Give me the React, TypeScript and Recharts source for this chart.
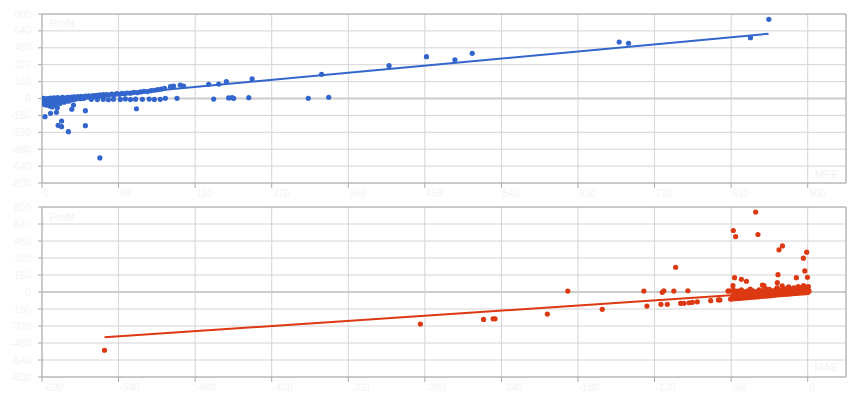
import React from 'react';
import { ScatterChart, Scatter, XAxis, YAxis, CartesianGrid, ReferenceLine } from 'recharts';

// ---------- data ----------
const yTicks = [-800, -640, -480, -320, -160, 0, 160, 320, 480, 640, 800];
const mfeTicks = [0, 90, 180, 270, 360, 450, 540, 630, 720, 810, 900];
const maeTicks = [-600, -540, -480, -420, -360, -300, -240, -180, -120, -60, 0];

// [MFE, Profit]
const profitVsMfe: [number, number][] = [
  [3.5, -172], [10, -140], [17, -131], [19, -254], [23, -213], [23, -267], [31, -314], [35, -102], [37, -62],
  [51, -115], [51, -257], [68, -563], [111, -97],
  [139, -8], [145, 2], [158.7, 2], [201.8, -5], [219.4, 5], [223.4, 8], [225.3, 2], [243, 8], [313, 2], [337, 11],
  [65, -10], [72, -8], [78, -12], [84, -6], [92, -9], [98, -4], [104, -10], [110, -6], [118, -8], [126, -5], [132, -9],
  [151, 112], [154.7, 118], [162.5, 128], [166.4, 118], [195.9, 134], [207.7, 137], [216.7, 159], [247, 185],
  [328.6, 229], [407.9, 311], [451.9, 396], [485.3, 367], [505.7, 428], [678.4, 535], [689.4, 523], [832.7, 576], [854.3, 750],
  [0.5, -5], [0.8, -30], [1, -12], [1.2, -48], [1.5, 2], [1.8, -20], [2, -38], [2.3, -8], [2.6, -55], [3, -15],
  [3.3, -25], [3.6, -3], [4, -42], [4.4, -18], [4.8, -62], [5, -6], [5.5, -30], [6, -12], [6.5, -50], [7, 0],
  [7.5, -22], [8, -36], [8.5, -8], [9, -70], [9.5, -15], [10, 4], [10.5, -28], [11, -45], [11.5, -10], [12, -80],
  [12.5, -2], [13, -20], [13.5, -35], [14, 6], [14.5, -12], [15, -58], [15.5, -25], [16, 2], [16.5, -40], [17, -8],
  [17.5, -18], [18, -88], [18.5, 8], [19, -30], [19.5, -5], [20, -14], [21, -48], [22, -2], [23, -22], [24, 10],
  [25, -10], [26, -35], [27, 4], [28, -18], [29, -6], [30, 12], [31, -26], [32, -2], [33, 8], [34, -14],
  [35, 14], [36, 0], [37, -10], [38, 16], [39, 6], [40, -4], [42, 18], [43, 8], [45, -2], [46, 20],
  [48, 10], [49, 0], [51, 22], [53, 12], [55, 26], [57, 14], [58, -8], [60, 28], [62, 18], [64, 30],
  [66, 20], [68, 34], [70, 24], [72, 36], [74, 28], [76, 38], [79, 32], [82, 42], [85, 36], [88, 46],
  [91, 40], [94, 48], [97, 44], [100, 52], [104, 50], [108, 58], [112, 56], [116, 62], [120, 68], [124, 66],
  [128, 74], [132, 78], [136, 84], [140, 88], [144, 96],
];
const trendProfitMfe: [number, number][] = [[0, -26], [854, 613]];

// [MAE, Profit]
const profitVsMae: [number, number][] = [
  [-551, -548], [-303.5, -302], [-254, -258], [-246.5, -252], [-245, -252], [-204, -208], [-188, 9], [-161, -163],
  [-128.4, 9], [-126, -132], [-115, -116], [-114, -3], [-112.7, 12], [-110, -116], [-103.5, 233], [-104.9, 9],
  [-99.6, -107], [-97, -107], [-93, -101], [-90.4, -97], [-86.5, -92], [-93.9, 12], [-76, -82], [-70, -75], [-68.8, -75],
  [-58.3, 579], [-56.5, 522], [-40.8, 753], [-39, 541], [-57.3, 135], [-58.6, 60], [-52, 120], [-48, 101],
  [-22.5, 397], [-19.8, 434], [-23.3, 163], [-23.8, 88], [-0.8, 375], [-3.4, 318], [-2.3, 198], [-0.2, 139],
  [-8.9, 135], [-62.5, 9], [-60.4, -66], [-35.5, 66], [-34.3, 60],
  [-60, -66], [-58, -64], [-56, -62], [-54, -60], [-52, -58], [-50, -56], [-48, -55], [-46, -52], [-44, -50], [-42, -48],
  [-40, -46], [-38, -44], [-36, -42], [-34, -40], [-32, -38], [-30, -36], [-28, -34], [-26, -30], [-24, -28], [-22, -26],
  [-20, -24], [-18, -22], [-16, -20], [-14, -18], [-12, -16], [-10, -14], [-8, -12], [-6, -10], [-4, -8], [-2, -6], [0, -4],
  [-62, 9], [-60, 10], [-57, 4], [-55, 8], [-51, 6], [-49, 2], [-47, 10], [-45, 5], [-43, 12], [-41, 0],
  [-39, 8], [-37, 3], [-35, 14], [-33, 6], [-31, 18], [-29, 2], [-27, 10], [-25, 22], [-23, 6], [-21, 14],
  [-19, 28], [-17, 8], [-15, 18], [-13, 30], [-11, 12], [-9, 24], [-7, 36], [-5, 16], [-3, 40], [-1, 20],
  [0, 30], [1, 8], [0.5, 50], [-0.5, -2], [-1.5, 12], [-2.5, 28], [-3.5, -4], [-4.5, 6], [-6, 44], [-8, 4],
  [-10, 34], [-12, 0], [-14, 22], [-16, -6], [-18, 12], [-20, -10], [-22, 18], [-24, -12], [-26, 4], [-28, -14],
  [-30, 26], [-32, -18], [-34, -4], [-36, -22], [-38, 20], [-40, -26], [-42, -8], [-44, -30], [-46, -12], [-48, -34],
  [-50, -20], [-52, -38], [-54, -24], [-56, -42], [-58, -28], [-59, -46],
  [-0.2, 15], [-0.8, 35], [-1.2, 2], [-1.8, 45], [-2.2, 18], [-2.8, -6], [-3.2, 60], [-4, 25], [-5, -2], [-5.5, 30],
  [-6.5, 12], [-7.5, 52], [-9, 8], [-11, 40], [-13, 6], [-15, 48], [-17, 30], [-20, 58], [-24, 40], [-27, -20],
  [-33, 30], [-45, 28], [-52, 20], [-58, 15],
];
const trendProfitMae: [number, number][] = [[-551, -425], [1, 18]];

const toPts = (arr: [number, number][]) => arr.map(([x, y]) => ({ x, y }));

const BLUE = '#3366cc';
const RED = '#dc3912';
const LABEL = '#f3f3f3';
const FONT = 'Arial, "Liberation Sans", sans-serif';

const dot = (color: string) => (p: any) => <circle cx={p.cx} cy={p.cy} r={2.6} fill={color} />;
const noShape = () => <g />;

const XTick = (p: any) => (
  <text x={p.x + 1} y={p.y} dy="0.71em" textAnchor="start" fill={LABEL} fontSize={10} fontFamily={FONT}>
    {p.payload.value}
  </text>
);
const YTick = (p: any) => (
  <text x={p.x} y={p.y} dy="0.355em" textAnchor="end" fill={LABEL} fontSize={10} fontFamily={FONT}>
    {p.payload.value}
  </text>
);

function Panel(props: {
  data: [number, number][];
  trend: [number, number][];
  color: string;
  xDomain: [number, number];
  xTicks: number[];
  top: number;
  xHeight: number;
}) {
  const { data, trend, color, xDomain, xTicks, top, xHeight } = props;
  return (
    <ScatterChart width={860} height={200} margin={{ top, right: 14, bottom: 0, left: 0 }}>
      <CartesianGrid stroke="#d4d4d4" strokeWidth={1} />
      <XAxis
        type="number"
        dataKey="x"
        domain={xDomain}
        ticks={xTicks}
        height={xHeight}
        tickSize={5}
        stroke="#aaaaaa"
        tickLine={{ stroke: '#aaaaaa' }}
        tick={<XTick />}
        interval={0}
        allowDataOverflow
      />
      <YAxis
        type="number"
        dataKey="y"
        domain={[-800, 800]}
        ticks={yTicks}
        width={42}
        tickSize={4}
        tickMargin={7}
        stroke="#aaaaaa"
        tick={<YTick />}
        interval={0}
        allowDataOverflow
      />
      <ReferenceLine y={0} stroke="#cccccc" strokeWidth={2} />
      <ReferenceLine y={800} stroke="#aaaaaa" strokeWidth={1} />
      <ReferenceLine x={xDomain[1]} stroke="#aaaaaa" strokeWidth={1} />
      <Scatter data={toPts(data)} shape={dot(color)} isAnimationActive={false} />
      <Scatter
        data={toPts(trend)}
        shape={noShape}
        line={{ stroke: color, strokeWidth: 2 }}
        isAnimationActive={false}
      />
    </ScatterChart>
  );
}

export default function App() {
  return (
    <div style={{ position: 'absolute', left: 0, top: 0, width: 860, height: 400, background: '#fff' }}>
      <div style={{ position: 'absolute', left: 0, top: 0 }}>
        <Panel data={profitVsMfe} trend={trendProfitMfe} color={BLUE} xDomain={[0, 945]} xTicks={mfeTicks} top={14} xHeight={17} />
      </div>
      <div style={{ position: 'absolute', left: 0, top: 200 }}>
        <Panel data={profitVsMae} trend={trendProfitMae} color={RED} xDomain={[-600, 30]} xTicks={maeTicks} top={7} xHeight={23} />
      </div>
      <svg width={860} height={400} style={{ position: 'absolute', left: 0, top: 0, pointerEvents: 'none' }}>
        <text x={49} y={27} fill={LABEL} fontSize={11} fontFamily={FONT}>Profit</text>
        <text x={838} y={178} textAnchor="end" fill={LABEL} fontSize={11} fontFamily={FONT}>MFE</text>
        <text x={49} y={221} fill={LABEL} fontSize={11} fontFamily={FONT}>Profit</text>
        <text x={838} y={371} textAnchor="end" fill={LABEL} fontSize={11} fontFamily={FONT}>MAE</text>
      </svg>
    </div>
  );
}
